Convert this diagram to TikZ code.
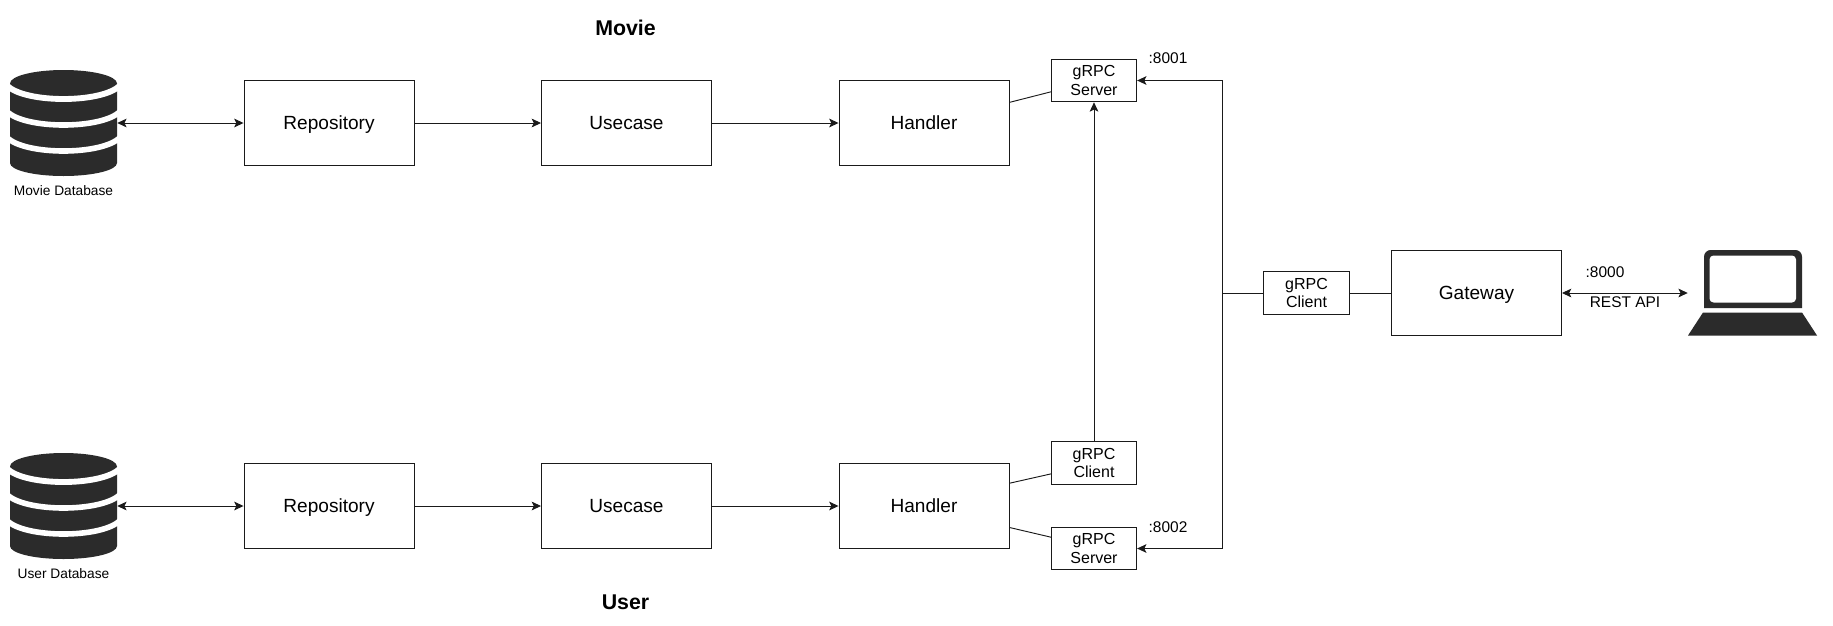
\documentclass[tikz,border=0pt]{standalone}
\usepackage{fontspec}
\setmainfont{Liberation Sans}
\usetikzlibrary{arrows.meta,calc}
\definecolor{ink}{HTML}{1A1A1A}
\definecolor{icon}{HTML}{2B2B2B}
\tikzset{
  x=0.75pt,y=-0.75pt,
  box/.style={draw=ink,line width=0.7pt,fill=white,inner sep=0pt,minimum width=127.5pt,minimum height=63.75pt,text height=10.3pt,text depth=0pt,font=\fontsize{14.3}{17}\selectfont},
  port/.style={draw=ink,line width=0.7pt,fill=white,inner sep=0pt,minimum width=64pt,minimum height=32pt,align=center,font=\fontsize{12}{13.9}\selectfont},
  iconbox/.style={inner sep=0pt,minimum width=80.25pt,minimum height=80.25pt},
  laptopbox/.style={inner sep=0pt,minimum width=96.75pt,minimum height=63.75pt},
  small/.style={inner sep=0pt,font=\fontsize{10.3}{13}\selectfont},
  note/.style={inner sep=0pt,font=\fontsize{11.6}{14}\selectfont},
  title/.style={inner sep=0pt,font=\fontsize{16}{19}\selectfont\bfseries},
  link/.style={draw=ink,line width=0.7pt},
  flow/.style={link,-{Stealth[length=7pt,width=6.5pt,inset=1.6pt]}},
  both/.style={link,{Stealth[length=7pt,width=6.5pt,inset=1.6pt]}-{Stealth[length=7pt,width=6.5pt,inset=1.6pt]}},
  dbicon/.pic={
    \fill[icon] (10,-39) -- (117,-39) -- (117,40.5) arc[start angle=0,end angle=180,x radius=53.5,y radius=13] -- cycle;
    \fill[icon] (63.5,-39) ellipse[x radius=53.5,y radius=13.5];
    \draw[white,line width=4.4pt] (7,-37) .. controls (25,-19) and (102,-19) .. (120,-37);
    \draw[white,line width=4.2pt] (7,-11) .. controls (25,7) and (102,7) .. (120,-11);
    \draw[white,line width=4.2pt] (7,15) .. controls (25,33) and (102,33) .. (120,15);
  },
}
\begin{document}
\begin{tikzpicture}
\fill[white] (0,0) rectangle (1833,625);
\useasboundingbox (0,0) rectangle (1833,625);

% titles
\node[title] (tmovie) at (625.5,28) {Movie};
\node[title] (tuser) at (625.5,602) {User};

% databases
\pic at (0,122.5) {dbicon};
\pic at (0,505.5) {dbicon};
\node[iconbox] (db1) at (63.5,123) {};
\node[iconbox] (db2) at (63.5,506) {};
\node[small] (ldb1) at (63.5,191) {Movie Database};
\node[small] (ldb2) at (63.5,574) {User Database};

% top row
\node[box] (r1) at (329,123) {Repository};
\node[box] (u1) at (626.5,123) {Usecase};
\node[box] (h1) at (924,123) {Handler};
\node[port] (s1) at (1094,80.5) {gRPC\\Server};
\node[note] (p1) at (1168,58.5) {:8001};

% bottom row
\node[box] (r2) at (329,506) {Repository};
\node[box] (u2) at (626.5,506) {Usecase};
\node[box] (h2) at (924,506) {Handler};
\node[port] (c2) at (1094,463) {gRPC\\Client};
\node[port] (s2) at (1094,548.5) {gRPC\\Server};
\node[note] (p2) at (1168,527.5) {:8002};

% gateway side
\node[port] (cm) at (1306.5,293) {gRPC\\Client};
\node[box] (gw) at (1476.5,293) {Gateway};
\node[note] (p0) at (1605,272) {:8000};
\node[note] (lrest) at (1625,302.5) {REST API};
\node[laptopbox] (lap) at (1752.5,293) {};
\coordinate (hub) at (1222,293);

% laptop icon
\fill[icon] (1704,308) [rounded corners=5pt] -- (1704,250) -- (1802,250) [sharp corners] -- (1802,308) -- cycle;
\fill[white,rounded corners=3pt] (1709.5,255.5) rectangle (1796,302.5);
\fill[icon] (1703,312.5) -- (1802,312.5) -- (1817,335.5) -- (1688,335.5) -- cycle;

% connectors
\draw[both] (db1.east) -- (r1.west);
\draw[both] (db2.east) -- (r2.west);
\draw[flow] (r1) -- (u1);
\draw[flow] (u1) -- (h1);
\draw[flow] (r2) -- (u2);
\draw[flow] (u2) -- (h2);
\draw[link] ($(h1.north east)!.26!(h1.south east)$) -- ($(s1.north west)!.76!(s1.south west)$);
\draw[link] ($(h2.north east)!.235!(h2.south east)$) -- ($(c2.north west)!.75!(c2.south west)$);
\draw[link] ($(h2.north east)!.75!(h2.south east)$) -- ($(s2.north west)!.24!(s2.south west)$);
\draw[flow] (c2.north) -- (s1.south);
\draw[link] (gw.west) -- (cm.east);
\draw[link] (cm.west) -- (hub);
\draw[flow] (hub) |- (s1.east);
\draw[flow] (hub) |- (s2.east);
\draw[both] (gw.east) -- (lap.west);
\end{tikzpicture}
\end{document}
